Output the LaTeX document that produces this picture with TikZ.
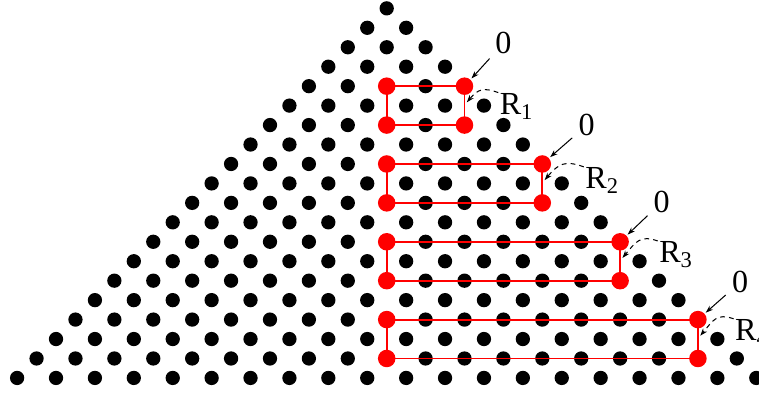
\documentclass[tikz,border=0pt]{standalone}
\usepackage{fontspec}
\setmainfont{Liberation Serif}
\usetikzlibrary{arrows.meta}

\begin{document}
\begin{tikzpicture}[x=5mm,y=5mm,>={Stealth[length=5.5pt,width=3.8pt]},
    dot/.style={circle,fill=black,inner sep=0pt,minimum size=3.67mm},
    reddot/.style={circle,fill=red,inner sep=0pt,minimum size=4.5mm},
    frame/.style={draw=red,line width=1.4pt},
    pointer/.style={->,line width=0.75pt},
    lbl/.style={inner sep=0pt,font=\fontsize{23.5}{28}\selectfont}]
  \useasboundingbox (-19.88,-19.86) rectangle (19.14,0.43);
  \clip (-19.88,-19.86) rectangle (19.14,0.43);
  % the triangle of points
  \foreach \k in {0,...,19}
    \foreach \j in {0,...,\k}
      \node[dot] (p-\k-\j) at ({2*\j-\k},-\k) {};
  % the boxes R_1 ... R_4
  \foreach \m/\zx/\zy/\rx/\ry in {1/2.0/2.2/1.8/-1.45, 2/2.28/1.99/2.2/-1.27,
      3/2.14/2.04/2.0/-1.08, 4/2.17/1.92/1.9/-1.08}
  {
    \pgfmathtruncatemacro\ka{4*\m}
    \pgfmathtruncatemacro\kb{4*\m+2}
    \pgfmathtruncatemacro\ja{2*\m}
    \pgfmathtruncatemacro\jb{4*\m}
    \pgfmathtruncatemacro\jc{2*\m+1}
    \pgfmathtruncatemacro\jd{4*\m+1}
    \draw[frame] (p-\ka-\ja.center) rectangle (p-\kb-\jd.center);
    \node[reddot] (a\m) at (p-\ka-\ja) {};
    \node[reddot] (b\m) at (p-\ka-\jb) {};
    \node[reddot] (c\m) at (p-\kb-\jc) {};
    \node[reddot] (d\m) at (p-\kb-\jd) {};
    \node[lbl] (z\m) at (\ka+\zx,-\ka+\zy) {0};
    \node[lbl,anchor=base west] (r\m) at (\ka+\rx,-\ka+\ry) {R\textsubscript{\m}};
    \coordinate (e\m) at (\ka+0.12,-\ka-0.83);
    \draw[pointer,shorten <=6pt,shorten >=1pt] (z\m) -- (b\m);
    \draw[pointer,dash pattern=on 3.5pt off 3pt,shorten <=1pt]
      (r\m.north west) to[out=160,in=50,looseness=1.3] (e\m);
  }
\end{tikzpicture}
\end{document}
